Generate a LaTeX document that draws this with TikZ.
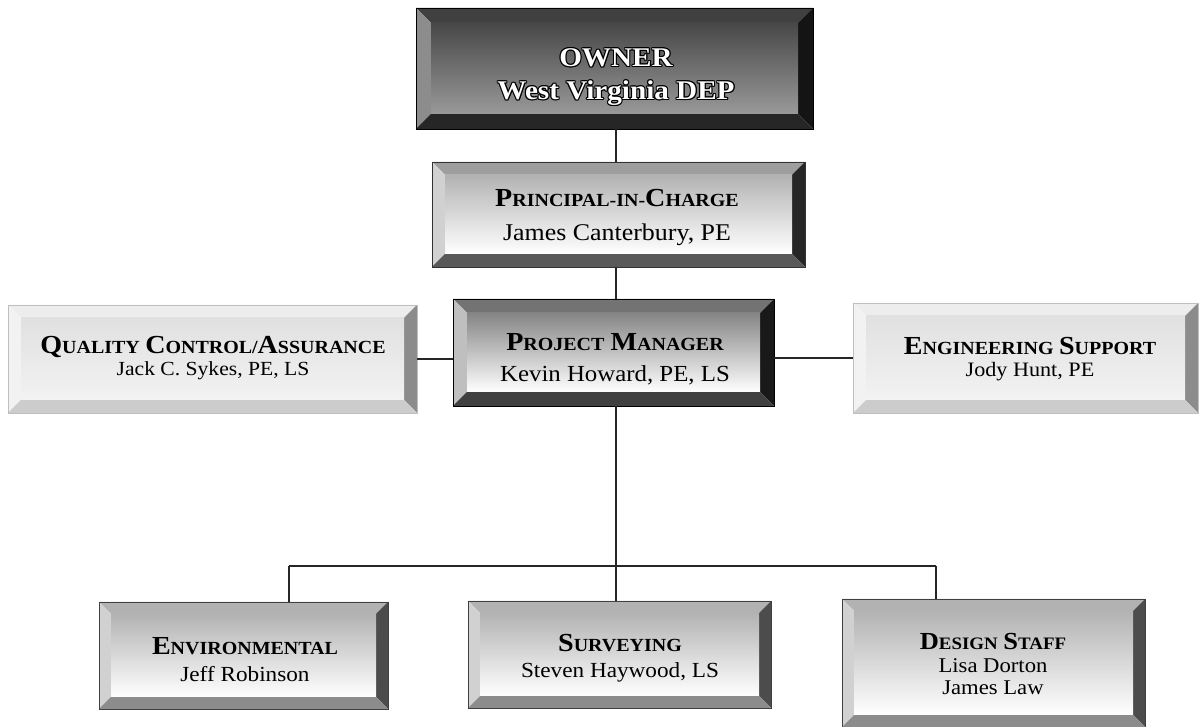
\documentclass[tikz,border=0pt]{standalone}
\usepackage{fontspec}
\setmainfont[FakeStretch=1.08]{Liberation Serif}
\usetikzlibrary{calc,backgrounds}
\tikzset{
  box/.style={inner sep=0pt, outer sep=0pt, draw=none},
  txt/.style={align=center, inner sep=0pt, text=black},
  conn/.style={draw=black!85, line width=1.4pt},
}
\newcommand\hsc[2]{{\bfseries\fontsize{26}{26}\selectfont #1}{\bfseries\fontsize{18.5}{18.5}\selectfont #2}}
\newcommand\hscs[2]{{\bfseries\fontsize{24.5}{24.5}\selectfont #1}{\bfseries\fontsize{17.5}{17.5}\selectfont #2}}
\newcommand\ow[1]{\leavevmode
  \rlap{\color{black}\hspace{-1.1pt}#1}\rlap{\color{black}\hspace{1.1pt}#1}%
  \rlap{\color{black}\raisebox{1.1pt}{#1}}\rlap{\color{black}\raisebox{-1.1pt}{#1}}%
  \rlap{\color{black}\hspace{0.8pt}\raisebox{0.8pt}{#1}}\rlap{\color{black}\hspace{-0.8pt}\raisebox{0.8pt}{#1}}%
  \rlap{\color{black}\hspace{0.8pt}\raisebox{-0.8pt}{#1}}\rlap{\color{black}\hspace{-0.8pt}\raisebox{-0.8pt}{#1}}%
  {\color{white}#1}}
\newcommand\bevel[9]{%
  \begin{scope}[on background layer]
    \coordinate (#1-a) at (#1.north west);
    \coordinate (#1-b) at (#1.north east);
    \coordinate (#1-c) at (#1.south east);
    \coordinate (#1-d) at (#1.south west);
    \coordinate (#1-ia) at ($(#1.north west)+(#2,-#2)$);
    \coordinate (#1-ib) at ($(#1.north east)+(-#2,-#2)$);
    \coordinate (#1-ic) at ($(#1.south east)+(-#2,#2)$);
    \coordinate (#1-id) at ($(#1.south west)+(#2,#2)$);
    \fill[#3] (#1-a) -- (#1-b) -- (#1-ib) -- (#1-ia) -- cycle;
    \fill[#4] (#1-a) -- (#1-ia) -- (#1-id) -- (#1-d) -- cycle;
    \fill[#5] (#1-b) -- (#1-ib) -- (#1-ic) -- (#1-c) -- cycle;
    \fill[#6] (#1-d) -- (#1-id) -- (#1-ic) -- (#1-c) -- cycle;
    \shade[top color=#7, bottom color=#8] (#1-ia) rectangle (#1-ic);
    \draw[#9, line width=0.7pt] (#1-a) rectangle (#1-c);
  \end{scope}}
\begin{document}
\begin{tikzpicture}[x=1pt, y=1pt]
  \useasboundingbox (0,0) rectangle (1199,727);

  % boxes
  \node[box, minimum width=397pt, minimum height=121pt] (owner) at (614.5,658.5) {};
  \node[box, minimum width=373pt, minimum height=105pt] (principal) at (618.5,512.5) {};
  \node[box, minimum width=321pt, minimum height=107pt] (pm) at (613.5,374.5) {};
  \node[box, minimum width=409pt, minimum height=108pt] (qc) at (212.5,368) {};
  \node[box, minimum width=345pt, minimum height=110pt] (es) at (1025.5,369) {};
  \node[box, minimum width=289pt, minimum height=107pt] (env) at (243.5,71.5) {};
  \node[box, minimum width=303pt, minimum height=107pt] (surv) at (619.5,72.5) {};
  \node[box, minimum width=303pt, minimum height=128pt] (ds) at (993.5,64) {};

  \bevel{owner}{15}{black!75}{black!45}{black!92}{black!85}{black!72}{black!40}{black}
  \bevel{principal}{13}{black!38}{black!18}{black!85}{black!65}{black!30}{white}{black!80}
  \bevel{pm}{14}{black!55}{black!25}{black!90}{black!75}{black!48}{white}{black}
  \bevel{qc}{13}{black!7}{black!5}{black!45}{black!20}{black!12}{black!5}{black!25}
  \bevel{es}{13}{black!7}{black!5}{black!45}{black!20}{black!12}{black!5}{black!25}
  \bevel{env}{12}{black!30}{black!18}{black!70}{black!45}{black!30}{white}{black!75}
  \bevel{surv}{12}{black!30}{black!18}{black!70}{black!45}{black!30}{white}{black!75}
  \bevel{ds}{12}{black!30}{black!18}{black!70}{black!45}{black!30}{white}{black!75}

  % texts
  \node[txt, font=\bfseries\fontsize{27}{33}\selectfont] (owner-t) at (616,650)
    {\ow{OWNER}\\\ow{West Virginia DEP}};
  \node[txt, font=\fontsize{24}{34}\selectfont] (principal-t) at (617,510)
    {\hsc{P}{RINCIPAL-IN-}\hsc{C}{HARGE}\\James Canterbury, PE};
  \node[txt, font=\fontsize{23}{31}\selectfont] (pm-t) at (615,367.5)
    {\hsc{P}{ROJECT} \hsc{M}{ANAGER}\\Kevin Howard, PE, LS};
  \node[txt, font=\fontsize{20}{22}\selectfont] (qc-t) at (213,368.5)
    {\hsc{Q}{UALITY} \hsc{C}{ONTROL/}\hsc{A}{SSURANCE}\\Jack C. Sykes, PE, LS};
  \node[txt, font=\fontsize{20.5}{21.5}\selectfont] (es-t) at (1030,368)
    {\hsc{E}{NGINEERING} \hsc{S}{UPPORT}\\Jody Hunt, PE};
  \node[txt, font=\fontsize{21.5}{27}\selectfont] (env-t) at (245,67)
    {\hsc{E}{NVIRONMENTAL}\\Jeff Robinson};
  \node[txt, font=\fontsize{21.5}{26}\selectfont] (surv-t) at (620,68.5)
    {\hsc{S}{URVEYING}\\Steven Haywood, LS};
  \node[txt, font=\fontsize{21}{22.5}\selectfont] (ds-t) at (993,63)
    {\hscs{D}{ESIGN} \hscs{S}{TAFF}\\Lisa Dorton\\James Law};

  % connectors
  \coordinate (bus) at (616,161);
  \coordinate (busL) at (289,161);
  \coordinate (busR) at (936,161);
  \draw[conn] (owner.south -| bus) -- (principal.north -| bus);
  \draw[conn] (principal.south -| bus) -- (pm.north -| bus);
  \draw[conn] (pm.south -| bus) -- (bus);
  \draw[conn] (busL) -- (busR);
  \draw[conn] (busL) -- (busL |- env.north);
  \draw[conn] (bus) -- (bus |- surv.north);
  \draw[conn] (busR) -- (busR |- ds.north);
  \draw[conn] (qc.east) -- (qc.east -| pm.west);
  \draw[conn] (es.west) -- (es.west -| pm.east);
\end{tikzpicture}
\end{document}
